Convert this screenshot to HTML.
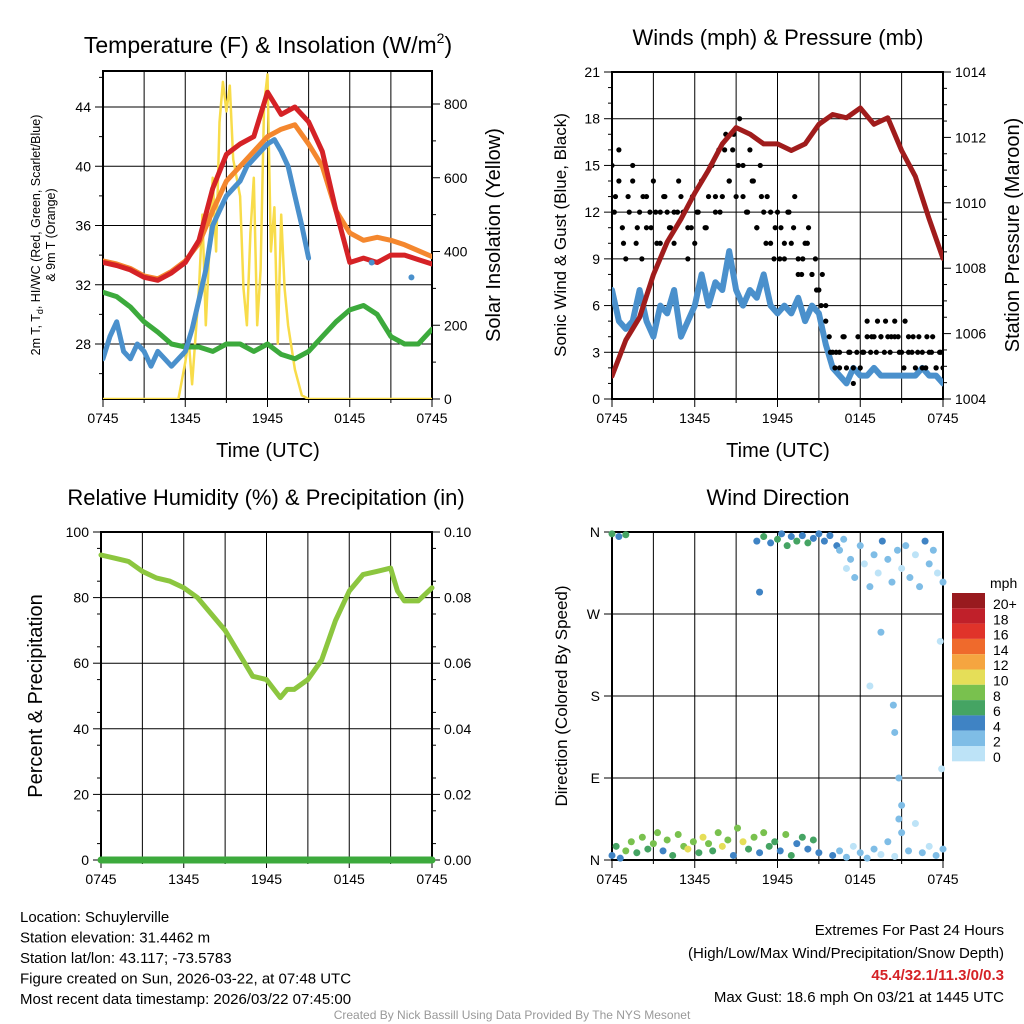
<!DOCTYPE html>
<html><head><meta charset="utf-8"><style>
body{margin:0;background:#fff;}
svg{display:block;font-family:"Liberation Sans",sans-serif;}
</style></head><body>
<svg id="c" width="1024" height="1024" viewBox="0 0 1024 1024" xmlns="http://www.w3.org/2000/svg"></svg>
<script>
// ---- data ----
const tempRed=[33.5,33.3,33,32.5,32.3,32.8,33.5,35,38.5,40.8,41.5,42,45,43.5,44,43,41,37,33.5,33.8,33.5,34,34,33.7,33.4];
const tempOrange=[33.6,33.4,33.1,32.6,32.4,32.9,33.6,34.8,37,39,40,41,42,42.5,42.8,41.5,40,37,35.5,35,35.2,35,34.7,34.3,33.9];
const dewGreen=[31.5,31.2,30.5,29.5,28.8,28,27.8,27.8,27.5,28,28,27.5,28,27.3,27,27.5,28.5,29.5,30.3,30.6,30,28.5,28,28,29];
const hiTimes=[0,0.5,1,1.5,2,2.5,3,3.5,4,4.5,5,5.5,6,6.5,7,7.5,8,8.5,9,9.5,10,10.5,11,11.5,12,12.5,13,13.5,14,14.5,15];
const hiBlue=[27,28.5,29.5,27.5,27,28,27.5,26.5,27.5,27,26.5,27,27.5,29,31,33,36,37,38,38.5,39,40,40.5,41,41.5,41.8,41,40,38,36,33.8];
const hiDotT=[19.6,22.5];
const hiDotV=[33.5,32.5];
const solTimes=[0,5.5,6,6.25,6.5,7,7.25,7.5,8,8.25,8.5,8.75,9,9.25,9.5,10,10.25,10.5,10.75,11,11.25,11.5,11.75,12,12.25,12.5,12.75,13,13.25,13.5,14,14.5,15,24];
const solar=[0,0,100,160,40,300,500,200,600,400,750,860,780,850,650,550,300,200,450,600,200,350,800,880,400,520,150,500,300,200,80,10,0,0];
const windBlue=[7,5,4.5,5,7,5,4,6,5.5,7,4,5,6,8,6,7.5,7,9.5,7,6,7,6.5,8,6,5.5,6,5.5,6.5,5,6,5.5,3.5,2,1.5,1,2,1.5,1.5,2,1.5,1.5,1.5,1.5,1.5,1.5,2,1.5,1.5,1];
const gust=[15,13,16,11,9,12,14,10,12,13,11,12,14,10,12,13,12,11,10,12,13,12,9,11,10,12,14,11,13,15,12,16,13,17,14,16,13,18,15,12,16,14,11,15,12,13,10,9,12,11,9,12,10,13,9,8,10,11,8,9,7,8,6,4,3,3,2,4,2,3,1,3,2,3,4,3,4,5,4,3,4,4,5,4,3,5,4,3,2,4,3,2,3,4,2,3,2];
const gust2=[12,14,10,13,15,11,9,13,11,12,10,13,11,12,14,12,11,13,12,14,11,15,13,12,16,14,17,15,13,12,14,11,13,10,12,11,9,10,12,11,8,9,10,8,7,6,5,3,2,3,4,3,2,4,3,5,4,3,4,5,3,4,3,2,3,4,3,2,4,3,2,3];
const pressure=[1004.7,1005.8,1006.5,1007.8,1008.8,1009.5,1010.3,1011,1011.8,1012.3,1012.1,1011.8,1011.8,1011.6,1011.8,1012.4,1012.7,1012.6,1012.9,1012.4,1012.6,1011.6,1010.8,1009.5,1008.3];
const rhTimes=[0,1,2,3,4,5,6,7,8,9,10,11,12,13,13.5,14,15,16,17,18,19,20,21,21.5,22,23,24];
const rh=[93,92,91,88,86,85,83,80,75,70,63,56,55,49.5,52,52,55,61,73,82,87,88,89,82,79,79,83];
const dirT=[0,0.3,0.6,1,1.4,1.8,2.2,2.6,3,3.3,3.7,4,4.4,4.8,5.2,5.5,5.9,6.3,6.6,7,7.3,7.7,8,8.4,8.8,9.1,9.5,9.9,10.3,10.7,11,11.4,11.8,12.2,12.6,13,13.4,13.8,14.2,14.6,15,
0,0.5,1,10.5,11,11.5,12,12.3,12.7,13,13.4,13.8,14.2,14.6,15,15.4,15.8,16.3,16.8,10.7,
16.5,17,17.3,17.6,18,18.3,18.7,19,19.3,19.6,20,20.3,20.7,21,21.3,21.6,22,22.3,22.7,23,23.3,23.6,24,
18.7,19.5,20.4,20.5,20.8,21,23.8,23.9,20.8,
16,16.5,17,17.5,18,18.5,19,19.5,20,20.5,21,21.5,22,22.5,23,23.5,24];
const dirD=[5,15,2,10,20,8,25,12,18,30,10,22,5,28,15,12,20,8,25,18,10,30,15,22,5,35,20,12,25,8,30,15,20,10,28,5,18,25,12,22,8,
358,355,357,350,355,348,352,358,345,355,350,356,348,353,358,350,356,345,352,294,
340,320,330,310,345,325,300,335,315,350,330,305,340,320,345,310,335,300,350,325,340,315,305,
191,250,170,140,90,60,240,100,45,
5,10,3,15,8,2,12,6,20,4,30,10,40,8,15,5,12];
const dirS=[4,6,3,8,7,5,8,6,8,7,4,8,6,7,8,9,7,5,10,8,6,8,9,7,4,8,9,6,7,4,8,5,6,4,7,5,4,6,4,5,3,
5,4,5,4,6,4,5,4,6,4,5,4,5,4,4,3,4,3,2,4,
1,0,1,2,1,0,2,1,0,3,1,2,1,0,1,2,0,1,3,2,1,0,2,
0,2,1,2,2,1,0,0,2,
3,1,2,0,1,2,1,0,1,0,2,1,0,1,0,1,2];
const speedLabels=["20+","18","16","14","12","10","8","6","4","2","0"];
const speedColors=["#981a1e","#c0202a","#e0332a","#ef6a2c","#f5a540","#e5de58","#79c14e","#45a463","#3f83c4","#7fbde6","#bde3f7"];
const xLabels=["0745","1345","1945","0145","0745"];

// ---- helpers ----
const NS="http://www.w3.org/2000/svg";const svg=document.getElementById('c');
function el(tag,attrs,parent,txt){const e=document.createElementNS(NS,tag);for(const k in attrs)e.setAttribute(k,attrs[k]);if(txt!==undefined)e.textContent=txt;(parent||svg).appendChild(e);return e;}
function scale(d0,d1,r0,r1){return v=>r0+(v-d0)/(d1-d0)*(r1-r0);}
function line(xs,ys,color,w,name,g){const d=xs.map((x,i)=>(i?'L':'M')+x.toFixed(1)+','+ys[i].toFixed(1)).join('');const p=el('path',{d:d,fill:'none',stroke:color,'stroke-width':w,'stroke-linejoin':'round','stroke-linecap':'round'},g);return p;}

function panel(name,x0,y0,x1,y1,title,lTicks,lLabels,lScale,rTicks,rLabels,rScale,lMinor,rMinor){
  const g=el('g',{},svg);
  const X=scale(0,24,x0,x1);
  for(let h=3;h<24;h+=3){el('line',{x1:X(h),x2:X(h),y1:y0,y2:y1,stroke:'#000','stroke-width':1},g);}
  lTicks.forEach(v=>{const y=lScale(v);if(y>y0+1&&y<y1-1)el('line',{x1:x0,x2:x1,y1:y,y2:y,stroke:'#000','stroke-width':1},g);});
  el('rect',{x:x0,y:y0,width:x1-x0,height:y1-y0,fill:'none',stroke:'#000','stroke-width':2},g);
  const ax=el('g',{},g);
  for(let h=0;h<=24;h+=3){el('line',{x1:X(h),x2:X(h),y1:y1,y2:y1+(h%6?4:8),stroke:'#000','stroke-width':1},ax);}
  xLabels.forEach((l,i)=>{const t=el('text',{x:X(i*6),y:y1+24,'font-size':14,'text-anchor':'middle'},ax,l);});
  const la=el('g',{},g);
  lTicks.forEach((v,i)=>{const y=lScale(v);el('line',{x1:x0-8,x2:x0,y1:y,y2:y,stroke:'#000'},la);const t=el('text',{x:x0-12,y:y+5,'font-size':14,'text-anchor':'end'},la,lLabels[i]);});
  lMinor.forEach(v=>{const y=lScale(v);el('line',{x1:x0-4,x2:x0,y1:y,y2:y,stroke:'#000'},la);});
  const ra=el('g',{},g);
  rTicks.forEach((v,i)=>{const y=rScale(v);el('line',{x1:x1,x2:x1+8,y1:y,y2:y,stroke:'#000'},ra);const t=el('text',{x:x1+12,y:y+5,'font-size':14},ra,rLabels[i]);});
  rMinor.forEach(v=>{const y=rScale(v);el('line',{x1:x1,x2:x1+4,y1:y,y2:y,stroke:'#000'},ra);});
  return {g,X};
}
function rng(a,b,s){const r=[];for(let v=a;v<=b+1e-9;v+=s)r.push(+v.toFixed(4));return r;}
function txt(x,y,s,size,opts,name){const t=el('text',Object.assign({x:x,y:y,'font-size':size},opts||{}),svg,s);return t;}

// ---- Panel 1: temperature ----
{
 const T=scale(28,44,344,107), S=scale(0,800,399,104);
 const p=panel('temperature-panel',103,71,432,399,'',[28,32,36,40,44],['28','32','36','40','44'],T,[0,200,400,600,800],['0','200','400','600','800'],S,rng(26,46,2).filter(v=>v%4),rng(100,800,100).filter(v=>v%200));
 const X=p.X, clip=el('clipPath',{id:'c1'},svg);el('rect',{x:103,y:71,width:329,height:328},clip);
 const g=el('g',{'clip-path':'url(#c1)'},p.g);
 line(solTimes.map(X),solar.map(S),'#f8dc4a',2.5,'solar-insolation-line',g);
 line(dewGreen.map((v,i)=>X(i)),dewGreen.map(T),'#3caa3c',5,'dewpoint-line',g);
 line(tempOrange.map((v,i)=>X(i)),tempOrange.map(T),'#f4872e',5,'temp-9m-line',g);
 line(tempRed.map((v,i)=>X(i)),tempRed.map(T),'#d52226',5,'temp-2m-line',g);
 line(hiTimes.map(X),hiBlue.map(T),'#4a90cc',5,'heat-index-windchill-line',g);
 hiDotT.forEach((t,i)=>{const c=el('circle',{cx:X(t),cy:T(hiDotV[i]),r:3,fill:'#4a90cc'},g);});
 const tt=el('text',{x:268,y:53,'font-size':23,'text-anchor':'middle'},svg);
 tt.innerHTML='Temperature (F) &amp; Insolation (W/m<tspan font-size="14" dy="-10">2</tspan><tspan dy="10">)</tspan>';
 const yl=el('text',{transform:'translate(40,235) rotate(-90)','font-size':12.5,'text-anchor':'middle'},svg);
 yl.innerHTML='2m T, T<tspan font-size="9" dy="3">d</tspan><tspan dy="-3">, HI/WC (Red, Green, Scarlet/Blue)</tspan>';
 txt(0,0,'& 9m T (Orange)',12.5,{transform:'translate(55,235) rotate(-90)','text-anchor':'middle'},'temperature-y-axis-title-2');
 txt(0,0,'Solar Insolation (Yellow)',20,{transform:'translate(500,235) rotate(-90)','text-anchor':'middle'},'solar-y-axis-title');
 txt(268,457,'Time (UTC)',20,{'text-anchor':'middle'},'temperature-x-axis-title');
}
// ---- Panel 2: winds ----
{
 const W=scale(0,21,399,72), P=scale(1004,1014,399,72);
 const p=panel('wind-panel',612,72,943,399,'',rng(0,21,3),rng(0,21,3).map(String),W,rng(1004,1014,2),rng(1004,1014,2).map(String),P,rng(1,20,1).filter(v=>v%3),rng(1004.5,1014,0.5).filter(v=>v%2));
 const X=p.X, clip=el('clipPath',{id:'c2'},svg);el('rect',{x:612,y:72,width:331,height:327},clip);
 const g=el('g',{'clip-path':'url(#c2)'},p.g);
 line(windBlue.map((v,i)=>X(i*24/(windBlue.length-1))),windBlue.map(W),'#4a90cc',6,'sonic-wind-line',g);
 gust.forEach((v,i)=>{const c=el('circle',{cx:X(i*24/(gust.length-1)),cy:W(v),r:2.6,fill:'#000'},g);});
 gust2.forEach((v,i)=>{const c=el('circle',{cx:X((i+0.5)*24/gust2.length),cy:W(v),r:2.6,fill:'#000'},g);});
 line(pressure.map((v,i)=>X(i)),pressure.map(P),'#a01c1c',5,'pressure-line',g);
 txt(778,45,'Winds (mph) & Pressure (mb)',22,{'text-anchor':'middle'},'winds-title');
 txt(0,0,'Sonic Wind & Gust (Blue, Black)',17,{transform:'translate(566,235) rotate(-90)','text-anchor':'middle'},'wind-y-axis-title');
 txt(0,0,'Station Pressure (Maroon)',20,{transform:'translate(1019,235) rotate(-90)','text-anchor':'middle'},'pressure-y-axis-title');
 txt(778,457,'Time (UTC)',20,{'text-anchor':'middle'},'winds-x-axis-title');
}
// ---- Panel 3: RH ----
{
 const R=scale(0,100,860,532), Q=scale(0,0.1,860,532);
 const p=panel('humidity-panel',101,532,432,860,'',rng(0,100,20),rng(0,100,20).map(String),R,rng(0,0.1,0.02),['0.00','0.02','0.04','0.06','0.08','0.10'],Q,rng(5,95,10),rng(0.005,0.095,0.01));
 const X=p.X;
 line(rhTimes.map(X),rh.map(R),'#8cc63f',5,'relative-humidity-line',p.g);
 line([X(0),X(24)],[Q(0),Q(0)],'#3caa3c',7,'precipitation-line',p.g);
 txt(266,505,'Relative Humidity (%) & Precipitation (in)',22,{'text-anchor':'middle'},'humidity-title');
 txt(0,0,'Percent & Precipitation',20,{transform:'translate(42,696) rotate(-90)','text-anchor':'middle'},'humidity-y-axis-title');
}
// ---- Panel 4: direction ----
{
 const D=scale(0,360,860,532);
 const p=panel('direction-panel',612,532,943,860,'',[0,90,180,270,360],['N','E','S','W','N'],D,[],[],D,[],[]);
 const X=p.X;
 dirT.forEach((t,i)=>{const ci=Math.max(0,10-Math.round(dirS[i]/2));const c=el('circle',{cx:X(t),cy:D(dirD[i]),r:3.5,fill:speedColors[Math.min(10,ci)]},p.g);});
 txt(778,505,'Wind Direction',22,{'text-anchor':'middle'},'direction-title');
 txt(0,0,'Direction (Colored By Speed)',17,{transform:'translate(567,696) rotate(-90)','text-anchor':'middle'},'direction-y-axis-title');
 const lg=el('g',{},svg);
 txt(990,588,'mph',14,{},'legend-title');
 speedColors.forEach((c,i)=>{const r=el('rect',{x:952,y:593+i*15.3,width:33,height:15.3,fill:c},lg);
  const t=el('text',{x:993,y:609+i*15.3,'font-size':14},lg,speedLabels[i]);});
}
// ---- footer ----
const info=['Location: Schuylerville','Station elevation: 31.4462 m','Station lat/lon: 43.117; -73.5783','Figure created on Sun, 2026-03-22, at 07:48 UTC','Most recent data timestamp: 2026/03/22 07:45:00'];
info.forEach((s,i)=>txt(20,922+i*20.5,s,15,{},'station-info-line'));
txt(1004,935,'Extremes For Past 24 Hours',15,{'text-anchor':'end'},'extremes-title');
txt(1004,958,'(High/Low/Max Wind/Precipitation/Snow Depth)',15,{'text-anchor':'end'},'extremes-subtitle');
txt(1004,980,'45.4/32.1/11.3/0/0.3',15,{'text-anchor':'end',fill:'#d52226','font-weight':'bold'},'extremes-values');
txt(1004,1002,'Max Gust: 18.6 mph On 03/21 at 1445 UTC',15,{'text-anchor':'end'},'max-gust');
txt(512,1019,'Created By Nick Bassill Using Data Provided By The NYS Mesonet',12,{'text-anchor':'middle',fill:'#999'},'credit');
</script>
</body></html>
